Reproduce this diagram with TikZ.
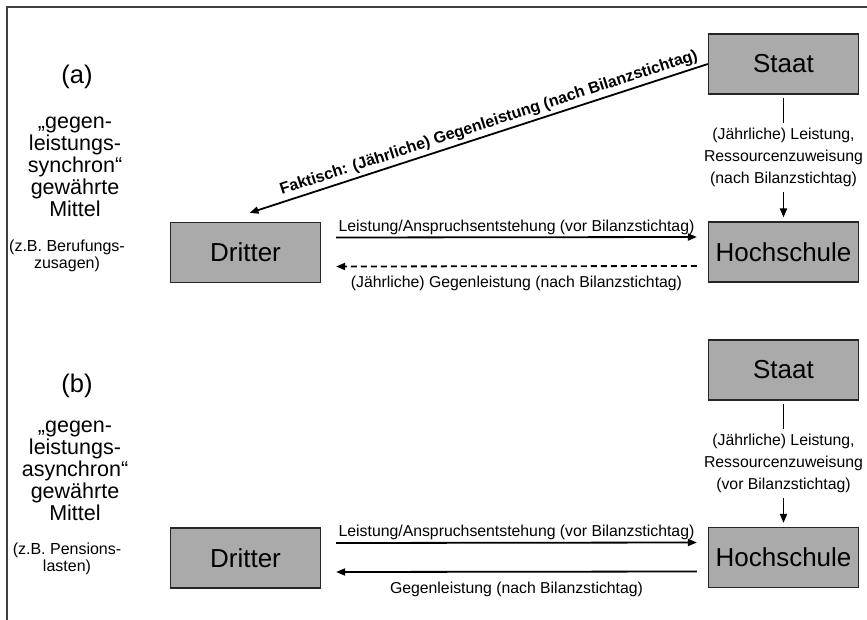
\documentclass[tikz,border=0pt]{standalone}
\usepackage{fontspec}
\setmainfont{Liberation Sans}
\usetikzlibrary{arrows.meta}
\definecolor{boxgray}{RGB}{170,170,170}
\begin{document}
\begin{tikzpicture}[x=1pt,y=-1pt,
  box/.style={draw=black!85, line width=1.2pt, fill=boxgray, minimum width=150pt, minimum height=60pt, inner sep=0pt, font=\fontsize{26}{30}\selectfont},
  lbl/.style={font=\fontsize{15.8}{22}\selectfont, inner sep=0pt, align=center},
  arr/.style={line width=1.8pt, -{Triangle[length=9pt,width=7pt]}},
  framestyle/.style={line width=1.4pt, draw=black!75},
  tagtxt/.style={font=\fontsize{25.5}{30}\selectfont},
  desctxt/.style={font=\fontsize{21.5}{22}\selectfont, align=center},
  extxt/.style={font=\fontsize{16}{17}\selectfont, align=center},
]
\useasboundingbox (0,0) rectangle (867,620);
\draw[framestyle] (7,620) -- (7,7) -- (867,7);

% (a)
\node[box] (staatA) at (783.5,64) {Staat};
\node[box] (hsA) at (783.5,252) {Hochschule};
\node[box] (drA) at (245.5,252.5) {Dritter};

\node[tagtxt] (tagA) at (77,77) {(a)};
\node[desctxt] (descA) at (75,167) {„gegen-\\leistungs-\\synchron“\\gewährte\\Mittel};
\node[extxt] (exA) at (67,256) {(z.B. Berufungs-\\zusagen)};

\draw[arr] ([xshift=15pt,yshift=15pt]drA.east) -- ([xshift=-11pt,yshift=15pt]hsA.west)
  node[lbl, midway, yshift=10pt] {Leistung/Anspruchsentstehung (vor Bilanzstichtag)};
\draw[arr, dashed, dash pattern=on 6pt off 4pt] ([xshift=-11pt,yshift=-14pt]hsA.west) -- ([xshift=15pt,yshift=-14pt]drA.east)
  node[lbl, midway, yshift=-17pt] {(Jährliche) Gegenleistung (nach Bilanzstichtag)};
\draw[arr] ([yshift=-3pt]staatA.south) -- ([yshift=4pt]hsA.north)
  node[lbl, midway, fill=white, inner xsep=2pt, inner ysep=5pt] {(Jährliche) Leistung,\\Ressourcenzuweisung\\(nach Bilanzstichtag)};
\draw[arr] (staatA.west) -- ([xshift=4pt,yshift=9pt]drA.north)
  node[lbl, pos=0.47, sloped, above=3pt, font=\fontsize{16}{22}\selectfont\bfseries] {Faktisch: (Jährliche) Gegenleistung (nach Bilanzstichtag)};

% (b)
\node[box] (staatB) at (783.5,370) {Staat};
\node[box] (hsB) at (783.5,557.5) {Hochschule};
\node[box] (drB) at (245.5,558) {Dritter};

\node[tagtxt] (tagB) at (77,386) {(b)};
\node[desctxt] (descB) at (75,471) {„gegen-\\leistungs-\\asynchron“\\gewährte\\Mittel};
\node[extxt] (exB) at (67,559) {(z.B. Pensions-\\lasten)};

\draw[arr] ([xshift=15pt,yshift=15pt]drB.east) -- ([xshift=-11pt,yshift=15pt]hsB.west)
  node[lbl, midway, yshift=10pt] {Leistung/Anspruchsentstehung (vor Bilanzstichtag)};
\draw[arr] ([xshift=-11pt,yshift=-14pt]hsB.west) -- ([xshift=15pt,yshift=-14pt]drB.east)
  node[lbl, midway, yshift=-18pt] {Gegenleistung (nach Bilanzstichtag)};
\draw[arr] ([yshift=-3pt]staatB.south) -- ([yshift=4pt]hsB.north)
  node[lbl, midway, fill=white, inner xsep=2pt, inner ysep=5pt] {(Jährliche) Leistung,\\Ressourcenzuweisung\\(vor Bilanzstichtag)};
\end{tikzpicture}
\end{document}
